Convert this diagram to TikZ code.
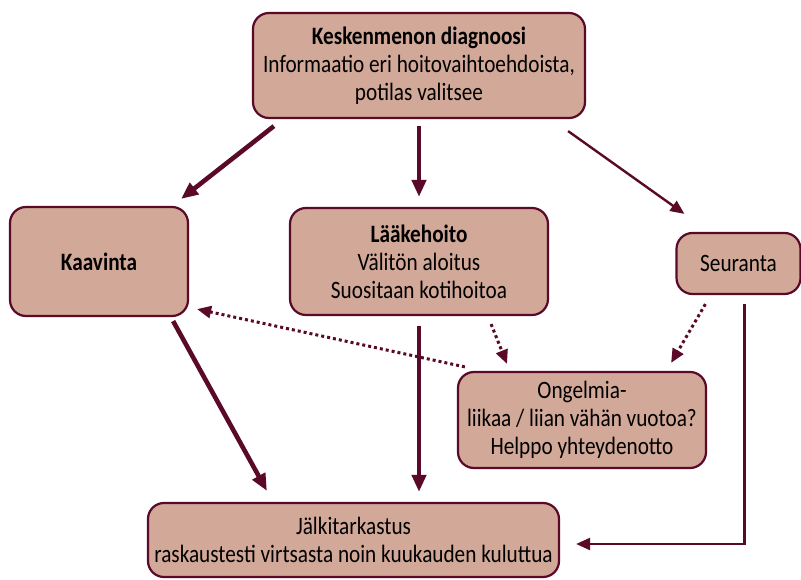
\documentclass[tikz,border=0pt]{standalone}
\usepackage{fontspec}
\setmainfont{Carlito}[FakeStretch=0.85]
\usetikzlibrary{arrows.meta, positioning, calc}
\definecolor{kmfill}{HTML}{D2A898}
\definecolor{kmline}{HTML}{5A0A28}

\begin{document}
\begin{tikzpicture}[
  x=1pt, y=-1pt,
  every node/.style={font=\fontsize{25}{28}\selectfont},
  box/.style={rectangle, rounded corners=16pt, draw=kmline, fill=kmfill, line width=2.2pt, align=center, inner sep=0pt},
  arr/.style={-{Triangle[length=17pt, width=14pt]}, line width=4.6pt, kmline},
  thinarr/.style={-{Triangle[length=14pt, width=12pt]}, line width=2.4pt, kmline},
  dotarr/.style={-{Triangle[length=14pt, width=12pt]}, line width=3pt, kmline, dash pattern=on 3pt off 3pt},
]
\useasboundingbox (0,0) rectangle (801,580);

% Boxes
\node[box, minimum width=332pt, minimum height=105pt] (diag) at (419, 65.5)
  {\textbf{Keskenmenon diagnoosi}\\Informaatio eri hoitovaihtoehdoista,\\potilas valitsee};
\node[box, minimum width=178pt, minimum height=109pt] (kaav) at (99, 261.5) {\textbf{Kaavinta}};
\node[box, minimum width=258pt, minimum height=107pt] (laake) at (419, 261.5)
  {\textbf{Lääkehoito}\\Välitön aloitus\\Suositaan kotihoitoa};
\node[box, minimum width=124pt, minimum height=61pt] (seur) at (738.5, 263.5) {Seuranta};
\node[box, minimum width=248pt, minimum height=96pt] (ongel) at (582, 420)
  {Ongelmia-\\liikaa / liian vähän vuotoa?\\Helppo yhteydenotto};
\node[box, minimum width=411pt, minimum height=74pt] (jalki) at (353.5, 540)
  {Jälkitarkastus\\raskaustesti virtsasta noin kuukauden kuluttua};

% Arrows from diagnosis
\draw[arr] ([xshift=22pt, yshift=-7pt]diag.south west) -- ([xshift=-8pt, yshift=7pt]kaav.north east);
\draw[arr] ([yshift=-7pt]diag.south) -- ([yshift=10pt]laake.north);
\draw[thinarr] ([xshift=-18pt, yshift=-12pt]diag.south east) -- ([xshift=9pt, yshift=18pt]seur.north west);

% Arrows to follow-up
\draw[arr] ([xshift=-16pt, yshift=-4pt]kaav.south east) -- ([xshift=120pt, yshift=11pt]jalki.north west);
\draw[arr] ([yshift=-10pt]laake.south) -- ([yshift=10pt]laake.south |- jalki.north);
\draw[thinarr] ([xshift=6pt, yshift=-9pt]seur.south) |- ([xshift=16pt, yshift=-4pt]jalki.east);

% Problems
\draw[dotarr] ([xshift=8pt, yshift=4pt]ongel.north west) -- ([xshift=8pt, yshift=8pt]kaav.south east);
\draw[dotarr] ([xshift=-58pt, yshift=-8pt]laake.south east) -- ([xshift=-75pt, yshift=7pt]ongel.north);
\draw[dotarr] ([xshift=30pt, yshift=-9pt]seur.south west) -- ([xshift=-36pt, yshift=8pt]ongel.north east);

\end{tikzpicture}
\end{document}
